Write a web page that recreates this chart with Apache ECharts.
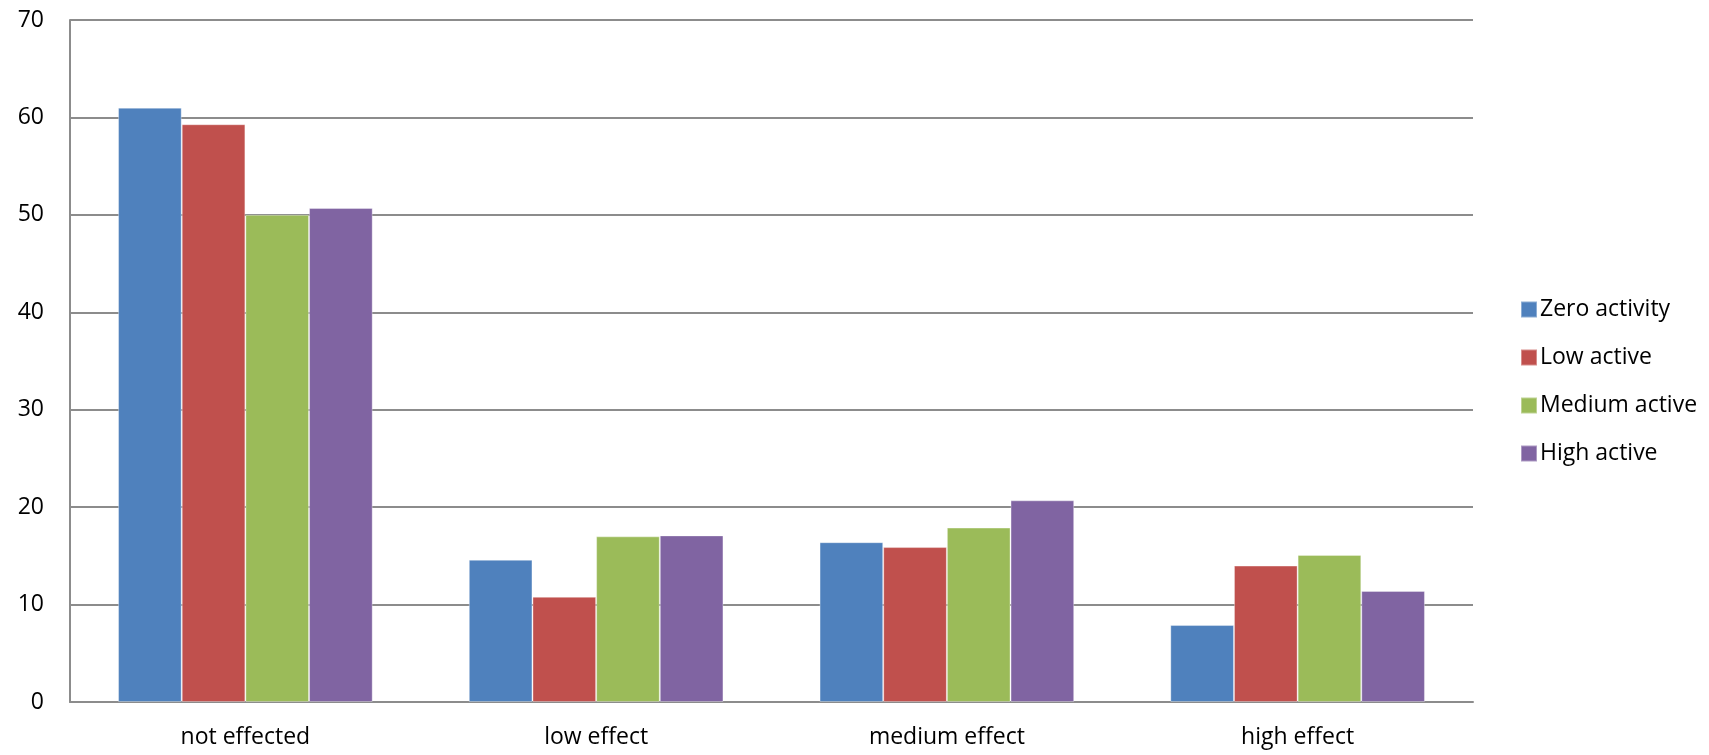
<!DOCTYPE html>
<html>
<head>
<meta charset="utf-8">
<script src="https://cdn.jsdelivr.net/npm/echarts@6/dist/echarts.min.js"></script>
<style>
  html, body { margin: 0; padding: 0; background: #fff; }
  #chart { width: 1709px; height: 755px; }
</style>
</head>
<body>
<div id="chart"></div>
<script>
// Effect categories along the x axis
const categories = ['not effected', 'low effect', 'medium effect', 'high effect'];

// Values per activity level, one entry per category
const zeroActivity   = [61.0, 14.6, 16.4, 7.9];
const lowActive      = [59.3, 10.8, 15.9, 14.0];
const mediumActive   = [50.0, 17.0, 17.9, 15.1];
const highActive     = [50.7, 17.1, 20.7, 11.4];

const seriesNames  = ['Zero activity', 'Low active', 'Medium active', 'High active'];
const seriesValues = [zeroActivity, lowActive, mediumActive, highActive];
const seriesColors = ['#4F81BD', '#C0504D', '#9BBB59', '#8064A2'];

const FONT = '"Open Sans", sans-serif';
const AXIS_GRAY = '#8C8C8C';

const chart = echarts.init(document.getElementById('chart'), null, { renderer: 'canvas' });

chart.setOption({
  animation: false,
  backgroundColor: '#ffffff',
  grid: { left: 70, right: 236, top: 20, bottom: 53, containLabel: false },
  legend: {
    orient: 'vertical',
    left: 1515,
    top: 293,
    itemWidth: 16,
    itemHeight: 16,
    itemGap: 25,
    icon: 'rect',
    textStyle: { fontFamily: FONT, fontSize: 23, color: '#000', padding: [0, 0, 0, -2] },
    data: seriesNames
  },
  xAxis: {
    type: 'category',
    data: categories,
    axisLine: { show: true, lineStyle: { color: AXIS_GRAY, width: 2 } },
    axisTick: { show: false },
    axisLabel: { fontFamily: FONT, fontSize: 23, color: '#000', margin: 24 }
  },
  yAxis: {
    type: 'value',
    min: 0,
    max: 70,
    interval: 10,
    axisLine: { show: true, lineStyle: { color: AXIS_GRAY, width: 2 } },
    axisTick: { show: false },
    splitLine: { show: true, lineStyle: { color: AXIS_GRAY, width: 2 } },
    axisLabel: { fontFamily: FONT, fontSize: 23, color: '#000', margin: 26 }
  },
  series: seriesNames.map((name, i) => ({
    name: name,
    type: 'bar',
    data: seriesValues[i],
    barGap: '0%',
    barCategoryGap: '27.4%',
    itemStyle: {
      color: seriesColors[i],
      borderColor: 'rgba(255,255,255,0.35)',
      borderWidth: 1
    }
  }))
});
</script>
</body>
</html>
